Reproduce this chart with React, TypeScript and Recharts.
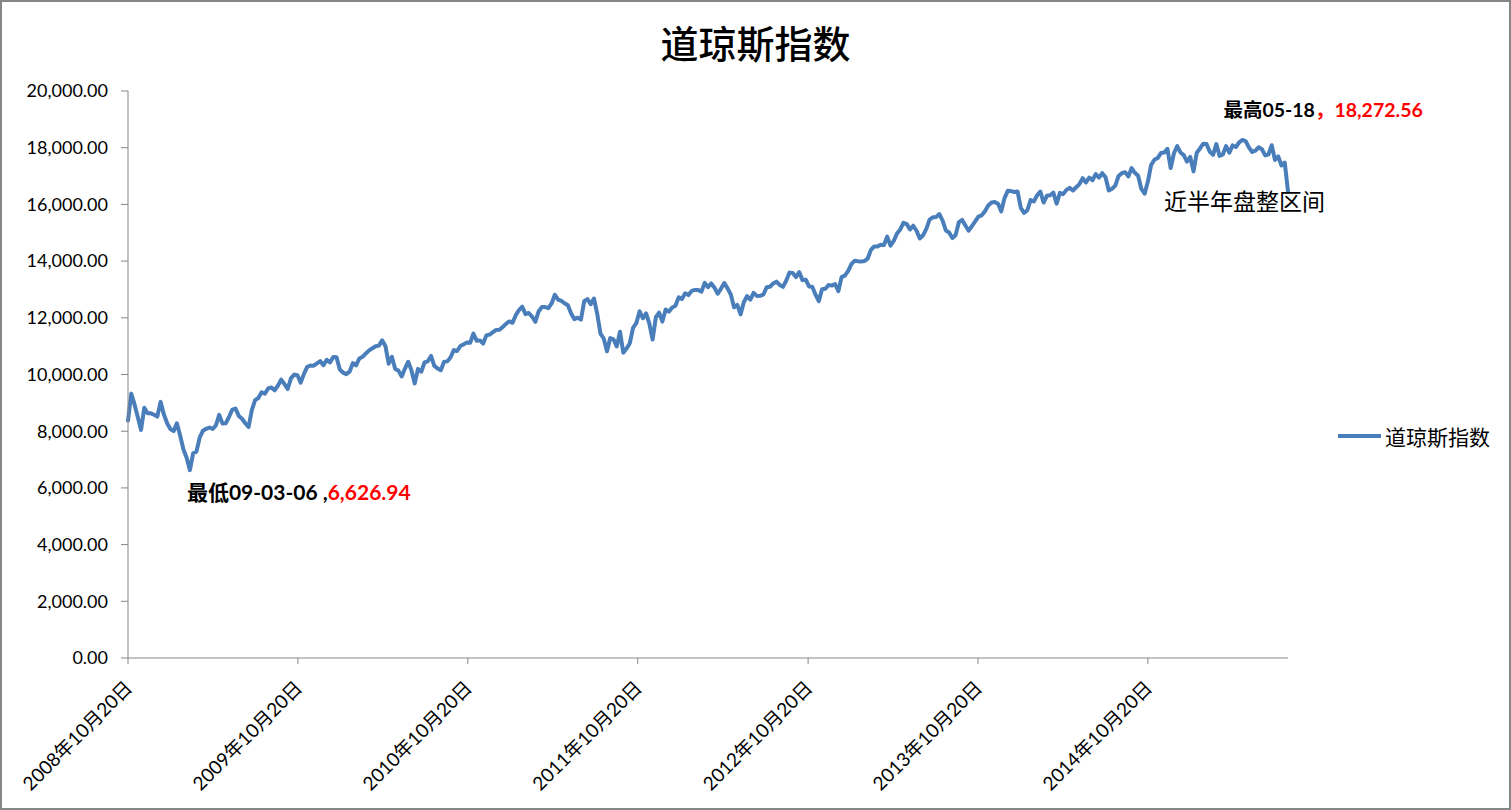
import React from 'react';
import { LineChart, Line, XAxis, YAxis, ReferenceDot } from 'recharts';

// ---------- data ----------
const START_DATE = '2008-10-20'; // date of the first weekly point; one point per week
const seriesName = '道琼斯指数';
const chartTitle = '道琼斯指数';

const closes2008 = [8378.95, 9325.01, 8943.81, 8497.31, 8046.42, 8829.04, 8635.42, 8629.68, 8579.11, 8515.55, 9034.69];
const closes2009 = [8599.18, 8281.22, 8077.56, 8000.86, 8280.59, 7850.41, 7365.67, 7062.93, 6626.94, 7223.98, 7278.38, 7776.18, 8017.59, 8083.38, 8131.33, 8076.29, 8212.41, 8574.65, 8268.64, 8277.32, 8500.33, 8763.96, 8799.26, 8539.73, 8438.39, 8280.74, 8146.52, 8743.94, 9093.24, 9171.61, 9370.07, 9321.4, 9505.96, 9544.2, 9441.27, 9605.41, 9820.2, 9665.19, 9487.67, 9864.94, 9995.91, 9972.18, 9712.73, 10023.42, 10270.47, 10318.16, 10309.92, 10388.9, 10471.5, 10328.89, 10520.1, 10428.05];
const closes2010 = [10618.19, 10609.65, 10172.98, 10067.33, 10012.23, 10099.14, 10402.35, 10325.26, 10566.2, 10624.69, 10741.98, 10850.36, 10927.07, 10997.35, 11018.66, 11204.28, 11008.61, 10380.43, 10620.16, 10193.39, 10136.63, 9931.97, 10211.07, 10450.64, 10143.81, 9686.48, 10198.03, 10097.9, 10424.62, 10465.94, 10653.56, 10303.15, 10213.62, 10150.65, 10447.93, 10462.77, 10607.85, 10860.26, 10829.68, 11006.48, 11062.78, 11132.56, 11118.49, 11444.08, 11192.58, 11203.55, 11092.0, 11382.09, 11410.32, 11491.91, 11573.49, 11577.51];
const closes2011 = [11674.76, 11787.38, 11871.84, 11823.7, 12092.15, 12273.26, 12391.25, 12130.45, 12169.88, 12044.4, 11858.52, 12220.59, 12376.72, 12380.05, 12341.83, 12505.99, 12810.54, 12638.74, 12595.75, 12512.04, 12441.58, 12151.26, 11951.91, 12004.36, 11934.58, 12582.77, 12657.2, 12479.73, 12681.16, 12143.24, 11444.61, 11269.02, 10817.65, 11284.54, 11240.26, 10992.13, 11509.09, 10771.48, 10913.38, 11103.12, 11644.49, 11808.79, 12231.11, 11983.24, 12153.68, 11796.16, 11231.78, 12019.42, 12184.26, 11866.39, 12294.0, 12217.56];
const closes2012 = [12359.92, 12422.06, 12720.48, 12660.46, 12862.23, 12801.23, 12949.87, 12982.95, 12977.57, 12922.02, 13232.62, 13080.73, 13212.04, 13060.14, 12849.59, 13029.26, 13228.31, 13038.27, 12820.6, 12369.38, 12454.83, 12118.57, 12554.2, 12767.17, 12640.78, 12880.09, 12772.47, 12777.09, 12822.57, 13075.66, 13096.17, 13207.95, 13275.2, 13157.97, 13090.84, 13306.64, 13593.37, 13579.47, 13437.13, 13610.15, 13328.85, 13343.51, 13107.21, 13093.16, 12815.39, 12588.31, 13009.68, 13025.58, 13155.13, 13135.01, 13190.84, 12938.11, 13435.21];
const closes2013 = [13488.43, 13649.7, 13895.98, 14009.79, 13992.97, 13981.76, 14000.57, 14089.66, 14397.07, 14514.11, 14512.03, 14578.54, 14565.25, 14865.06, 14547.51, 14712.55, 14973.96, 15118.49, 15354.4, 15303.1, 15115.57, 15248.12, 15070.18, 14799.4, 14909.6, 15135.84, 15464.3, 15543.74, 15558.83, 15658.36, 15425.51, 15081.47, 15010.51, 14810.31, 14922.5, 15376.06, 15451.09, 15258.24, 15072.58, 15237.11, 15399.65, 15570.28, 15615.55, 15761.78, 15961.7, 16064.77, 16086.41, 16020.2, 15755.36, 16221.14, 16478.41, 16469.99];
const closes2014 = [16437.05, 16458.56, 15879.11, 15698.85, 15794.08, 16154.39, 16103.3, 16321.71, 16452.72, 16065.67, 16302.77, 16323.06, 16412.71, 16026.75, 16408.54, 16361.46, 16512.89, 16583.34, 16491.31, 16606.27, 16717.17, 16924.28, 16775.74, 16947.08, 16851.84, 17068.26, 16943.81, 17100.18, 16960.57, 16493.37, 16553.93, 16662.91, 17001.22, 17098.45, 17137.36, 16987.51, 17279.74, 17113.15, 17009.69, 16544.1, 16380.41, 16805.41, 17390.52, 17573.93, 17634.74, 17810.06, 17828.24, 17958.79, 17280.83, 17804.8, 18053.71, 17832.99];
const closes2015 = [17737.37, 17511.57, 17672.6, 17164.95, 17824.29, 17972.38, 18140.44, 18132.7, 17856.78, 17749.31, 18127.65, 17712.66, 17763.24, 18057.65, 17826.3, 18080.14, 18024.06, 18191.11, 18272.56, 18232.02, 18010.68, 17849.46, 17898.84, 18015.95, 17946.68, 17730.11, 17760.41, 18086.45, 17568.53, 17689.86, 17373.38, 17477.4, 16459.75];

const xTickDates = ['2008-10-20', '2009-10-20', '2010-10-20', '2011-10-20', '2012-10-20', '2013-10-20', '2014-10-20'];
const yTicks = [0, 2000, 4000, 6000, 8000, 10000, 12000, 14000, 16000, 18000, 20000];

const lowText = { black: '最低09-03-06 ,', red: '6,626.94' };
const highText = { black: '最高05-18', red: '，18,272.56' };
const rangeNote = '近半年盘整区间';

// ---------- derived ----------
const weeklyCloses = [...closes2008, ...closes2009, ...closes2010, ...closes2011, ...closes2012, ...closes2013, ...closes2014, ...closes2015];
const DAY_MS = 86400000;
const t0 = Date.parse(START_DATE);
const data = weeklyCloses.map((close, i) => ({ day: i * 7, close }));
const lastDay = (weeklyCloses.length - 1) * 7;
const xTicks = xTickDates.map((d) => Math.round((Date.parse(d) - t0) / DAY_MS));

let minIdx = 0;
let maxIdx = 0;
weeklyCloses.forEach((v, i) => {
  if (v < weeklyCloses[minIdx]) minIdx = i;
  if (v > weeklyCloses[maxIdx]) maxIdx = i;
});
const lowPoint = data[minIdx];
const highPoint = data[maxIdx];
const lastPoint = data[data.length - 1];

const FONT = "Lato, 'Noto Sans CJK SC', sans-serif";
const CJK = "'Noto Sans CJK SC', sans-serif";
const LINE_COLOR = '#4A7EBB';
const AXIS_COLOR = '#868686';

const fmtDate = (day: number) => {
  const idx = xTicks.indexOf(day);
  const s = idx >= 0 ? xTickDates[idx] : START_DATE;
  const [y, m, d] = s.split('-').map((p) => parseInt(p, 10));
  return `${y}年${m}月${d}日`;
};

const fmtValue = (v: number) =>
  v.toLocaleString('en-US', { minimumFractionDigits: 2, maximumFractionDigits: 2 });

const XTick = (props: any) => {
  const { x, y, payload } = props;
  return (
    <g transform={`translate(${x + 5.5},${y + 25})`}>
      <text textAnchor="end" transform="rotate(-45)" fontSize={19} fontFamily={FONT} fill="#000">
        {fmtDate(payload.value)}
      </text>
    </g>
  );
};

const LowLabel = (props: any) => {
  const { viewBox } = props;
  const cx = viewBox.x + viewBox.width / 2;
  const cy = viewBox.y + viewBox.height / 2;
  return (
    <text x={cx - 3} y={cy + 30} fontSize={21} fontWeight="bold" fontFamily={FONT}>
      <tspan fill="#000">{lowText.black}</tspan>
      <tspan fill="#FF0000">{lowText.red}</tspan>
    </text>
  );
};

const HighLabel = (props: any) => {
  const { viewBox } = props;
  const cx = viewBox.x + viewBox.width / 2;
  const cy = viewBox.y + viewBox.height / 2;
  return (
    <text x={cx - 19} y={cy - 23} fontSize={19.5} fontWeight="bold" fontFamily={FONT}>
      <tspan fill="#000">{highText.black}</tspan>
      <tspan fill="#FF0000">{highText.red}</tspan>
    </text>
  );
};

const RangeLabel = (props: any) => {
  const { viewBox } = props;
  const cx = viewBox.x + viewBox.width / 2;
  const cy = viewBox.y + viewBox.height / 2;
  return (
    <text x={cx - 124} y={cy + 19} fontSize={23} fontFamily={CJK} fill="#000">
      {rangeNote}
    </text>
  );
};

export default function App() {
  return (
    <div
      style={{
        position: 'absolute',
        left: 0,
        top: 0,
        width: 1511,
        height: 810,
        boxSizing: 'border-box',
        border: `2px solid ${AXIS_COLOR}`,
        background: '#fff',
        overflow: 'hidden',
      }}
    >
      <div
        style={{
          position: 'absolute',
          left: 0,
          top: 21,
          width: 1507,
          textAlign: 'center',
          fontFamily: CJK,
          fontSize: 38,
          lineHeight: '38px',
          fontWeight: 500,
          color: '#000',
        }}
      >
        {chartTitle}
      </div>
      <LineChart width={1507} height={806} data={data} margin={{ top: 89, right: 221, bottom: 0, left: 0 }}>
        <XAxis
          type="number"
          dataKey="day"
          domain={[0, lastDay]}
          ticks={xTicks}
          interval={0}
          tick={<XTick />}
          tickSize={6}
          tickMargin={0}
          height={150}
          axisLine={{ stroke: AXIS_COLOR }}
          tickLine={{ stroke: AXIS_COLOR }}
        />
        <YAxis
          type="number"
          domain={[0, 20000]}
          ticks={yTicks}
          interval={0}
          width={126}
          tickSize={7}
          tickMargin={13}
          tickFormatter={fmtValue}
          tick={{ fontSize: 18, fill: '#000', fontFamily: FONT }}
          axisLine={{ stroke: AXIS_COLOR }}
          tickLine={{ stroke: AXIS_COLOR }}
        />
        <Line
          type="linear"
          dataKey="close"
          name={seriesName}
          stroke={LINE_COLOR}
          strokeWidth={4}
          strokeLinejoin="round"
          strokeLinecap="round"
          dot={false}
          activeDot={false}
          isAnimationActive={false}
        />
        <ReferenceDot x={lowPoint.day} y={lowPoint.close} r={1} fill="none" stroke="none" label={(p: any) => <LowLabel {...p} />} />
        <ReferenceDot x={highPoint.day} y={highPoint.close} r={1} fill="none" stroke="none" label={(p: any) => <HighLabel {...p} />} />
        <ReferenceDot x={lastPoint.day} y={lastPoint.close} r={1} fill="none" stroke="none" label={(p: any) => <RangeLabel {...p} />} />
      </LineChart>
      <div
        style={{
          position: 'absolute',
          left: 1336,
          top: 421,
          display: 'flex',
          alignItems: 'center',
          height: 26,
        }}
      >
        <div style={{ width: 43, height: 4, background: LINE_COLOR, marginRight: 4 }} />
        <span style={{ fontFamily: CJK, fontSize: 21, color: '#000', lineHeight: '26px' }}>{seriesName}</span>
      </div>
    </div>
  );
}
